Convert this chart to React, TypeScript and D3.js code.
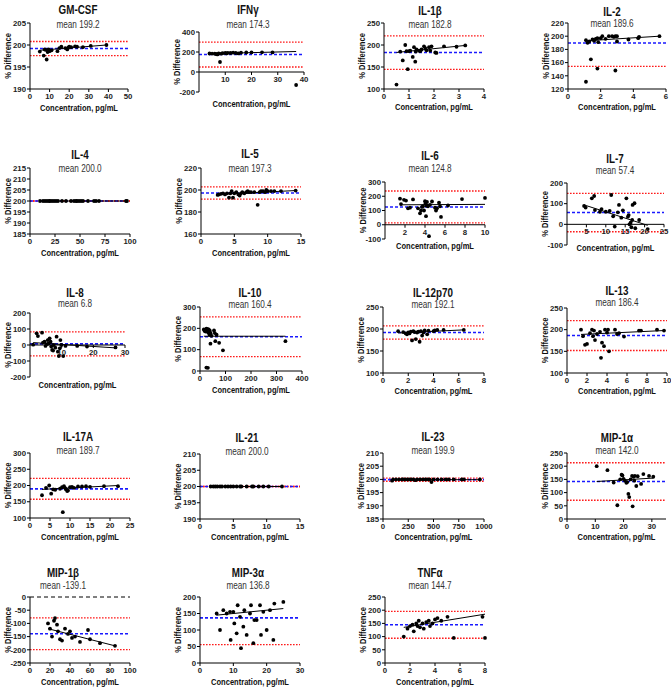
import React from 'react';
import * as d3 from 'd3';

// panel names and summary values
const names = ['GM-CSF', 'IFNγ', 'IL-1β', 'IL-2', 'IL-4', 'IL-5', 'IL-6', 'IL-7', 'IL-8', 'IL-10',
  'IL-12p70', 'IL-13', 'IL-17A', 'IL-21', 'IL-23', 'MIP-1α', 'MIP-1β', 'MIP-3α', 'TNFα'];
const means = [199.2, 174.3, 182.8, 189.6, 200.0, 197.3, 124.8, 57.4, 6.8, 160.4,
  192.1, 186.4, 189.7, 200.0, 199.9, 142.0, -139.1, 136.8, 144.7];
// limits of agreement [upper, lower]
const limits = [[200.8, 197.6], [299, 50], [220.8, 144.8], [225, 154.2], [200, 200], [202.9, 191.7],
  [237, 12.6], [150, -36], [81.8, -68.2], [253.4, 67.4], [207.1, 177.1], [220.9, 151.9],
  [221.7, 157.7], [200, 200], [200.5, 199.3], [213, 71], [-79.1, -199.1], [217.8, 55.8], [195.7, 93.7]];
// regression line: y at first and last concentration
const fits = [[198.8, 200.0], [183, 205], [183, 199], [193, 200], [200, 200], [196, 199.5],
  [140, 143], [94, -5], [15, -18], [163, 163], [191, 198], [189, 198], [188, 200], [200, 200],
  [199.9, 199.9], [142, 155], [-120, -185], [145, 165], [135, 185]];

const xDomains = [[0, 50], [0, 40], [0, 4], [0, 6], [0, 100], [0, 15], [0, 10], [0, 25], [0, 30], [0, 400],
  [0, 8], [0, 10], [0, 25], [0, 15], [0, 1000], [0, 35], [0, 100], [0, 30], [0, 8]];
const xTicks = [[0, 10, 20, 30, 40, 50], [10, 20, 30, 40], [0, 1, 2, 3, 4], [0, 2, 4, 6], [0, 25, 50, 75, 100],
  [0, 5, 10, 15], [2, 4, 6, 8, 10], [5, 10, 15, 20, 25], [10, 20, 30], [0, 100, 200, 300, 400],
  [0, 2, 4, 6, 8], [0, 2, 4, 6, 8, 10], [0, 5, 10, 15, 20, 25], [0, 5, 10, 15], [0, 250, 500, 750, 1000],
  [0, 10, 20, 30], [0, 20, 40, 60, 80, 100], [0, 10, 20, 30], [0, 2, 4, 6, 8]];
const yDomains = [[190, 205], [-200, 400], [100, 250], [120, 220], [185, 215], [160, 220], [-100, 300],
  [-100, 200], [-200, 200], [0, 300], [100, 250], [100, 250], [100, 300], [190, 210], [185, 210],
  [0, 250], [-250, 0], [0, 200], [0, 250]];
const yTicks = [[190, 195, 200, 205], [-200, 0, 200, 400], [100, 150, 200, 250], [120, 140, 160, 180, 200, 220],
  [185, 190, 195, 200, 205, 210, 215], [160, 180, 200, 220], [-100, 0, 100, 200, 300], [-100, 0, 100, 200],
  [-200, -100, 0, 100, 200], [0, 100, 200, 300], [100, 150, 200, 250], [100, 150, 200, 250],
  [100, 150, 200, 250, 300], [190, 195, 200, 205, 210], [185, 190, 195, 200, 205, 210],
  [0, 50, 100, 150, 200, 250], [-250, -200, -150, -100, -50, 0], [0, 50, 100, 150, 200], [0, 50, 100, 150, 200, 250]];

// [concentration, % difference]
const gmcsf = [[5, 198.5], [7, 197.6], [7.5, 199.0], [8, 198.9], [8.5, 196.7], [9, 198.4], [9.5, 199.0], [10, 198.6],
  [11, 198.8], [14, 198.6], [15, 199.3], [16, 199.6], [18, 199.3], [19, 199.0], [19.5, 199.4], [20, 199.6],
  [21, 199.5], [23, 199.7], [24, 199.6], [27, 199.5], [31, 199.8], [39, 200.0]];
const ifng = [[4, 185], [5, 184], [6, 183], [6.5, 180], [7, 176], [7.5, 185], [8, 100], [8.5, 183], [9, 188],
  [10, 190], [10.5, 186], [11, 192], [12, 190], [13, 193], [14, 190], [15, 186], [16, 193], [18, 195],
  [20, 196], [24, 197], [28, 196], [37, -130]];
const il1b = [[0.5, 110], [0.65, 185], [0.75, 165], [0.85, 200], [0.9, 186], [0.95, 145], [1.0, 186],
  [1.05, 187], [1.15, 173], [1.2, 195], [1.25, 162], [1.27, 185], [1.3, 190], [1.4, 187], [1.45, 186],
  [1.5, 190], [1.6, 197], [1.65, 193], [1.7, 188], [1.8, 195], [1.85, 187], [1.9, 197], [2.05, 183],
  [2.1, 182], [2.4, 197], [2.9, 196], [3.25, 199]];
const il2 = [[1.1, 194], [1.1, 131], [1.2, 190], [1.3, 192], [1.4, 165], [1.5, 195], [1.6, 193], [1.7, 196],
  [1.8, 197], [1.8, 151], [1.85, 191], [2.0, 197], [2.1, 200], [2.3, 196], [2.5, 200], [2.7, 200],
  [2.8, 199], [2.9, 148], [2.9, 200], [3.0, 200], [3.0, 192], [3.7, 195], [4.3, 197], [4.35, 199], [5.6, 200]];
const il4 = [[10, 200], [13, 200], [15, 200], [17, 200], [19, 200], [20, 200], [22, 200], [24, 200],
  [26, 200], [28, 200], [32, 200], [36, 200], [41, 200], [44, 200], [46, 200], [47, 200], [49, 200],
  [51, 200], [53, 200], [58, 200], [64, 200], [66, 200], [69, 200], [96, 200], [97, 200]];
const il5 = [[2.5, 195.5], [2.7, 196], [3.0, 196.5], [3.3, 197], [3.6, 196], [3.9, 197], [4.2, 193],
  [4.4, 197], [4.6, 199], [4.8, 193], [5.0, 197], [5.3, 198], [5.6, 196], [5.8, 195], [6.0, 197],
  [6.2, 198], [6.5, 197], [6.8, 198], [7.0, 199], [7.2, 198], [7.5, 198], [8.0, 198], [8.5, 186.5],
  [8.8, 198], [9.0, 199], [9.3, 199], [9.6, 198], [9.8, 200], [10.0, 199], [10.5, 199], [11.0, 199],
  [12.0, 199], [14.2, 199.5]];
const il6 = [[1.5, 183], [1.6, 145], [1.9, 175], [2.1, 170], [2.3, 115], [2.5, 120], [2.8, 178], [3.3, 115],
  [3.5, 80], [3.6, 100], [3.7, 125], [3.8, 130], [3.9, 100], [4.0, 165], [4.05, 150], [4.1, 60], [4.15, 135],
  [4.2, 160], [4.3, 130], [4.4, -80], [4.5, 140], [4.7, 163], [5.0, 120], [5.1, 100], [5.2, 115],
  [5.4, 155], [5.5, 130], [5.6, 55], [6.3, 135], [7.7, 180], [10.0, 188]];
const il7 = [[4.4, 89], [4.8, 81], [6.4, 126], [7.0, 137], [7.2, 69], [8.5, 61], [8.9, 74], [10, 61],
  [11, 65], [11.4, 142], [11.9, 39], [12.3, -11], [13.1, 58], [13.4, 94], [14, 32], [14.4, 68],
  [15.3, 126], [15.7, 37], [15.9, 45], [16.1, 0], [16.4, 8], [16.6, -14], [16.8, 21], [16.9, 94],
  [17.4, 102], [17.6, -19], [18.6, 21], [20.8, -23]];
const il8 = [[1.0, 2], [2.1, 73], [2.5, 56], [3.8, 77], [4.1, 15], [4.6, 21], [4.9, -6], [5.4, 6], [5.6, 31],
  [5.9, 10], [6.2, 42], [6.5, 21], [6.7, -10], [7.0, -31], [7.3, -35], [7.5, 0], [8.0, -17], [8.4, 52],
  [8.8, -42], [9.1, -69], [9.4, -21], [9.6, 31], [9.9, 0], [10.5, -69], [11.2, -6], [14.9, -6],
  [18, -10], [27, -15]];
const il10 = [[15, 195], [18, 188], [20, 192], [22, 185], [25, 198], [25, 16], [28, 190], [30, 196],
  [31, 15], [32, 180], [34, 195], [35, 188], [37, 170], [38, 190], [40, 180], [41, 128], [42, 175],
  [45, 165], [55, 190], [58, 178], [60, 140], [65, 170], [75, 132], [90, 97], [335, 140]];
const il12 = [[1.2, 195], [1.6, 193], [1.8, 190], [1.9, 188], [2.0, 192], [2.1, 190], [2.2, 194], [2.3, 174],
  [2.4, 195], [2.5, 193], [2.6, 177], [2.7, 192], [2.8, 194], [2.9, 171], [3.0, 195], [3.1, 185],
  [3.2, 192], [3.3, 197], [3.5, 188], [3.6, 196], [4.0, 195], [4.1, 197], [4.3, 198], [4.8, 198], [6.4, 198]];
const il13 = [[1.4, 200], [1.6, 185], [1.8, 165], [2.0, 167], [2.3, 192], [2.5, 200], [2.6, 185], [2.7, 198],
  [2.8, 176], [3.0, 190], [3.3, 195], [3.4, 135], [3.5, 170], [3.7, 162], [3.8, 200], [4.0, 193],
  [4.1, 200], [4.2, 150], [4.8, 200], [5.0, 190], [5.2, 192], [5.7, 184], [7.2, 198], [7.4, 198],
  [9.0, 200], [9.7, 198]];
const il17a = [[3, 170], [4, 193], [4.8, 200], [5.3, 175], [5.8, 188], [6.3, 187], [7.5, 190], [8, 195],
  [8.2, 118], [8.5, 198], [8.8, 192], [9, 188], [9.3, 183], [9.5, 185], [10, 195], [10.5, 196], [11, 193],
  [12, 197], [13, 197], [14, 198], [15, 196], [18.5, 198], [22, 198]];
const il21 = [[1.6, 200], [2.0, 200], [2.3, 200], [2.6, 200], [3.0, 200], [3.3, 200], [3.8, 200], [4.2, 200],
  [4.6, 200], [5.0, 200], [5.5, 200], [6.0, 200], [6.2, 200], [7.0, 200], [7.8, 200], [8.0, 200],
  [8.8, 200], [9.5, 200], [10.3, 200], [12.3, 200]];
const il23 = [[90, 199.5], [100, 200], [130, 200], [160, 200], [190, 200], [200, 200], [220, 200], [240, 200],
  [260, 200], [280, 200], [300, 200], [320, 199.7], [340, 200], [370, 200], [400, 200], [420, 200],
  [440, 200], [460, 200], [480, 199.0], [500, 200], [540, 200], [580, 200], [620, 200], [650, 200],
  [700, 200], [780, 200], [800, 200], [960, 200]];
const mip1a = [[10.5, 200], [14.3, 185], [16.5, 138], [17.8, 52], [18.8, 150], [19.3, 168], [19.6, 165],
  [20, 152], [20.5, 145], [21, 137], [21.3, 140], [21.7, 95], [22, 83], [22.5, 150], [23, 163], [23.2, 48],
  [23.5, 160], [23.8, 145], [24, 163], [24.5, 125], [25, 162], [26.2, 133], [27, 170], [29, 163], [30.5, 160]];
const mip1b = [[18, -100], [20, -120], [22, -150], [24, -90], [25, -80], [27, -105], [28, -130], [30, -160],
  [32, -165], [35, -120], [38, -140], [40, -130], [42, -155], [45, -150], [50, -170], [58, -125],
  [60, -160], [70, -175], [85, -185]];
const mip3a = [[5, 150], [6, 100], [7, 160], [8, 150], [9, 155], [9.2, 70], [10, 155], [10.3, 120], [11, 90],
  [11.3, 175], [12, 140], [12.3, 45], [13, 110], [13.3, 160], [14, 85], [15, 150], [15.3, 175], [16, 60],
  [16.3, 130], [17, 130], [18, 175], [18.3, 85], [19, 155], [20, 100], [21, 160], [22, 70], [22.3, 180], [25, 185]];
const tnfa = [[1.5, 100], [1.8, 130], [2, 140], [2.2, 145], [2.3, 120], [2.5, 150], [2.6, 140], [2.7, 160],
  [2.8, 135], [3, 150], [3.1, 130], [3.3, 155], [3.5, 160], [3.6, 140], [3.8, 150], [4, 165], [4.2, 170],
  [4.5, 160], [5, 175], [5.5, 95], [7.8, 175], [8, 95]];

const series = [gmcsf, ifng, il1b, il2, il4, il5, il6, il7, il8, il10, il12, il13, il17a, il21, il23,
  mip1a, mip1b, mip3a, tnfa];

// layout: plot box [left, top, right, bottom], title x, title y, mean y, x-label y
const boxes = [[30, 23, 128, 89], [199, 32, 304, 92], [384, 23, 484, 89], [568, 23, 666, 89],
  [30, 168, 130, 234], [201, 168, 301, 234], [385, 182, 485, 239], [567, 183, 664, 245],
  [30, 313, 125, 377], [200, 307, 302, 371], [383, 307, 484, 373], [567, 308, 667, 373],
  [30, 453, 130, 518], [200, 454, 300, 519], [383, 453, 484, 519], [567, 453, 666, 519],
  [30, 597, 130, 663], [200, 597, 300, 663], [385, 597, 485, 663]];
const titleX = [78, 248, 430, 612, 80, 250, 430, 615, 75, 250, 433, 617, 78, 247, 433, 617, 63, 248, 430];
const titleY = [14, 14, 15, 16, 159, 158, 160, 163, 297, 297, 297, 295, 441, 442, 441, 442, 577, 577, 577];
const meanY = [28, 28, 28, 27, 172, 172, 172, 174, 307, 308, 308, 306, 454, 455, 454, 454, 589, 589, 589];
const xLabelY = [111, 107, 110, 110, 256, 256, 249, 251, 388, 393, 394, 394, 540, 540, 540, 540, 685, 685, 685];
const crossAtZero = [false, true, false, false, false, false, true, true, true, false,
  false, false, false, false, false, false, false, false, false];

const FONT = '"Liberation Sans", Arial, Helvetica, sans-serif';
const SQ = 0.82;

function Panel({ i }: { i: number }) {
  const [L, T, R, B] = boxes[i];
  const x = d3.scaleLinear().domain(xDomains[i]).range([L, R]);
  const y = d3.scaleLinear().domain(yDomains[i]).range([B, T]);
  const pts = series[i];
  const axisY = crossAtZero[i] ? y(0) : B;
  const [xmin, xmax] = d3.extent(pts, (d) => d[0]) as [number, number];
  const inY = (v: number) => v >= yDomains[i][0] && v <= yDomains[i][1];
  const [up, lo] = limits[i];
  const fit = d3.line<[number, number]>().x((d) => x(d[0])).y((d) => y(d[1]));
  const midY = (T + B) / 2;

  return (
    <g>
      <text transform={`translate(${titleX[i]},${titleY[i]}) scale(${SQ},1)`} textAnchor="middle"
        fontSize={12} fontWeight="bold" fill="#111">{names[i]}</text>
      <text transform={`translate(${titleX[i]},${meanY[i]}) scale(${SQ},1)`} textAnchor="middle"
        fontSize={10} fill="#333">{`mean ${means[i].toFixed(1)}`}</text>

      {i === 16 && (
        <line x1={L} x2={R} y1={y(0)} y2={y(0)} stroke="#000" strokeWidth={1} strokeDasharray="4,3" />
      )}
      {[up, lo].filter(inY).map((v, k) => (
        <line key={'r' + k} x1={L} x2={R} y1={y(v)} y2={y(v)} stroke="#ff1a1a" strokeWidth={1.3}
          strokeDasharray="1.6,1.4" />
      ))}
      <line x1={L} x2={R} y1={y(means[i])} y2={y(means[i])} stroke="#1a1aff" strokeWidth={1.6}
        strokeDasharray="3,2" />

      <path d={fit([[xmin, fits[i][0]], [xmax, fits[i][1]]]) || ''} stroke="#000" strokeWidth={1} fill="none" />
      {pts.map((d, k) => (
        <circle key={k} cx={x(d[0])} cy={y(d[1])} r={1.9} fill="#000" />
      ))}

      {/* y axis */}
      <line x1={L} x2={L} y1={T} y2={B} stroke="#000" strokeWidth={1} />
      {yTicks[i].map((t) => (
        <g key={'y' + t}>
          <line x1={L - 3} x2={L} y1={y(t)} y2={y(t)} stroke="#000" strokeWidth={1} />
          <text x={L - 4} y={y(t)} dy="0.35em" textAnchor="end" fontSize={7.8} fontWeight="bold" fill="#222">{t}</text>
        </g>
      ))}
      {/* x axis */}
      <line x1={L} x2={R} y1={axisY} y2={axisY} stroke="#000" strokeWidth={1} />
      {xTicks[i].map((t) => (
        <g key={'x' + t}>
          <line x1={x(t)} x2={x(t)} y1={axisY} y2={axisY + 3} stroke="#000" strokeWidth={1} />
          <text x={x(t)} y={axisY + 10} textAnchor="middle" fontSize={7.8} fontWeight="bold" fill="#222">{t}</text>
        </g>
      ))}

      <text transform={`translate(${(L + R) / 2},${xLabelY[i]}) scale(${SQ},1)`} textAnchor="middle"
        fontSize={9.2} fontWeight="bold" fill="#111">Concentration, pg/mL</text>
      <text transform={`translate(${L - 19},${midY}) rotate(-90) scale(${SQ},1)`} textAnchor="middle"
        fontSize={9.2} fontWeight="bold" fill="#111">% Difference</text>
    </g>
  );
}

export default function App() {
  return (
    <svg width={671} height={696} fontFamily={FONT}
      style={{ position: 'absolute', left: 0, top: 0, background: '#fff' }}>
      <rect width={671} height={696} fill="#fff" />
      {names.map((_, i) => <Panel key={i} i={i} />)}
    </svg>
  );
}
